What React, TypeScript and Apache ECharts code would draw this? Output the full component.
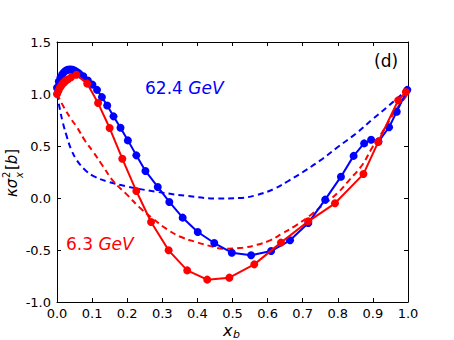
import React, { useEffect, useRef } from "react";
import * as echarts from "echarts";

// 62.4 GeV model (solid, markers)
const blueX = [0, 0.005, 0.01, 0.015, 0.02, 0.025, 0.03, 0.035, 0.04, 0.045, 0.05, 0.055, 0.06, 0.065, 0.075, 0.088, 0.101, 0.114, 0.128, 0.143, 0.161, 0.181, 0.202, 0.226, 0.252, 0.287, 0.32, 0.358, 0.401, 0.448, 0.498, 0.553, 0.61, 0.664, 0.716, 0.764, 0.809, 0.845, 0.875, 0.895, 0.916, 0.946, 0.968, 0.998];
const blueY = [1.06, 1.12, 1.16, 1.19, 1.21, 1.225, 1.232, 1.235, 1.235, 1.232, 1.225, 1.215, 1.205, 1.19, 1.17, 1.13, 1.09, 1.04, 0.97, 0.89, 0.785, 0.676, 0.554, 0.41, 0.26, 0.106, -0.038, -0.189, -0.327, -0.433, -0.526, -0.551, -0.51, -0.407, -0.24, -0.016, 0.205, 0.405, 0.525, 0.56, 0.542, 0.68, 0.83, 1.04];

// 6.3 GeV model (solid, markers)
const redX = [0, 0.004, 0.008, 0.012, 0.016, 0.02, 0.025, 0.03, 0.04, 0.055, 0.086, 0.117, 0.15, 0.186, 0.226, 0.268, 0.318, 0.371, 0.428, 0.491, 0.562, 0.638, 0.716, 0.792, 0.873, 0.915, 0.972, 0.994];
const redY = [1.0, 1.03, 1.06, 1.08, 1.1, 1.11, 1.13, 1.14, 1.16, 1.185, 1.1, 0.913, 0.673, 0.378, 0.067, -0.231, -0.503, -0.696, -0.785, -0.766, -0.638, -0.429, -0.224, -0.051, 0.23, 0.538, 0.939, 1.019];

// 62.4 GeV reference curve (dashed)
const blueDashX = [0, 0.009, 0.017, 0.028, 0.04, 0.057, 0.08, 0.104, 0.142, 0.2, 0.283, 0.37, 0.453, 0.52, 0.567, 0.62, 0.662, 0.71, 0.757, 0.8, 0.851, 0.9, 0.946, 1.0];
const blueDashY = [1.0, 0.84, 0.72, 0.59, 0.47, 0.36, 0.27, 0.21, 0.16, 0.11, 0.06, 0.02, -0.005, 0.0, 0.026, 0.09, 0.17, 0.27, 0.378, 0.49, 0.618, 0.76, 0.89, 1.05];

// 6.3 GeV reference curve (dashed)
const redDashX = [0, 0.02, 0.04, 0.057, 0.08, 0.104, 0.13, 0.161, 0.2, 0.235, 0.27, 0.311, 0.35, 0.396, 0.44, 0.472, 0.529, 0.57, 0.605, 0.64, 0.681, 0.72, 0.757, 0.8, 0.832, 0.87, 0.899, 0.93, 0.965, 1.0];
const redDashY = [1.0, 0.87, 0.76, 0.68, 0.55, 0.44, 0.31, 0.16, 0.03, -0.09, -0.19, -0.295, -0.37, -0.423, -0.465, -0.487, -0.478, -0.45, -0.41, -0.345, -0.263, -0.17, -0.07, 0.05, 0.17, 0.32, 0.49, 0.65, 0.843, 1.0];

const labelBlue = "62.4";
const labelRed = "6.3";
const panelTag = "(d)";

const FONT = "DejaVu Sans";
const BLUE = "#0000ff";
const RED = "#ff0000";

const zip = (xs: number[], ys: number[]) => xs.map((x, i) => [x, ys[i]]);

export default function App() {
  const ref = useRef<HTMLDivElement>(null);
  useEffect(() => {
    if (!ref.current) return;
    const chart = echarts.init(ref.current, null, { renderer: "svg" });
    const axisBase = {
      axisLine: { show: true, onZero: false, lineStyle: { color: "#000", width: 1 } },
      axisTick: { show: true, inside: true, length: 4, lineStyle: { color: "#000" } },
      splitLine: { show: false },
    };
    const grid = { left: 57, right: 46, top: 42, bottom: 38, outerBoundsMode: "none" } as any;
    chart.setOption({
      animation: false,
      grid,
      xAxis: [
        {
          type: "value", min: 0, max: 1, interval: 0.1, position: "bottom",
          ...axisBase,
          axisLabel: { color: "#000", fontSize: 13, fontFamily: FONT, margin: 5, lineHeight: 13, formatter: (v: number) => v.toFixed(1) },
        },
        {
          type: "value", min: 0, max: 1, interval: 0.1, position: "top",
          ...axisBase,
          axisLabel: { show: false },
        },
      ],
      yAxis: [
        {
          type: "value", min: -1, max: 1.5, interval: 0.5, position: "left",
          ...axisBase,
          axisLabel: { color: "#000", fontSize: 13, fontFamily: FONT, margin: 6, formatter: (v: number) => v.toFixed(1) },
        },
        {
          type: "value", min: -1, max: 1.5, interval: 0.5, position: "right",
          ...axisBase,
          axisLabel: { show: false },
        },
      ],
      series: [
        {
          type: "line", data: zip(blueDashX, blueDashY), smooth: 0.4, showSymbol: false, symbol: "none",
          lineStyle: { color: BLUE, width: 2, type: [6, 4] }, z: 2,
        },
        {
          type: "line", data: zip(redDashX, redDashY), smooth: 0.4, showSymbol: false, symbol: "none",
          lineStyle: { color: RED, width: 2, type: [6, 4] }, z: 2,
        },
        {
          type: "line", data: zip(blueX, blueY), symbol: "circle", symbolSize: 8, showAllSymbol: true,
          lineStyle: { color: BLUE, width: 2 }, itemStyle: { color: BLUE }, z: 3,
        },
        {
          type: "line", data: zip(redX, redY), symbol: "circle", symbolSize: 8, showAllSymbol: true,
          lineStyle: { color: RED, width: 2 }, itemStyle: { color: RED }, z: 4,
        },
      ],
      graphic: [
        {
          type: "text", left: 145, top: 79, z: 10,
          style: {
            text: `{n|${labelBlue} }{i|GeV}`,
            rich: {
              n: { fontFamily: FONT, fontSize: 17, fill: BLUE },
              i: { fontFamily: FONT, fontSize: 17, fontStyle: "italic", fill: BLUE },
            },
          },
        },
        {
          type: "text", left: 66, top: 235, z: 10,
          style: {
            text: `{n|${labelRed} }{i|GeV}`,
            rich: {
              n: { fontFamily: FONT, fontSize: 17, fill: RED },
              i: { fontFamily: FONT, fontSize: 17, fontStyle: "italic", fill: RED },
            },
          },
        },
        {
          type: "text", left: 374, top: 52, z: 10,
          style: { text: panelTag, fontFamily: FONT, fontSize: 17, fill: "#000" },
        },
        // x axis name: x_b
        {
          type: "group", x: 223, y: 336, z: 10,
          children: [
            { type: "text", x: 0, y: -6, style: { text: "x", fontFamily: FONT, fontSize: 16, lineHeight: 12, fontStyle: "italic", fill: "#000", verticalAlign: "middle" } },
            { type: "text", x: 10, y: -2, style: { text: "b", fontFamily: FONT, fontSize: 11, lineHeight: 9, fontStyle: "italic", fill: "#000", verticalAlign: "middle" } },
          ],
        },
        // y axis name: κσ_x^2[b]
        {
          type: "group", x: 17, y: 197, rotation: Math.PI / 2, z: 10,
          children: [
            { type: "text", x: 0, y: -5, style: { text: "κσ", fontFamily: FONT, fontSize: 15, fontStyle: "italic", fill: "#000", verticalAlign: "middle" } },
            { type: "text", x: 19, y: -11, style: { text: "2", fontFamily: FONT, fontSize: 10, fill: "#000", verticalAlign: "middle" } },
            { type: "text", x: 19, y: 2, style: { text: "x", fontFamily: FONT, fontSize: 10, fontStyle: "italic", fill: "#000", verticalAlign: "middle" } },
            {
              type: "text", x: 27, y: -5,
              style: {
                text: "[{i|b}]", fontFamily: FONT, fontSize: 15, fill: "#000", verticalAlign: "middle",
                rich: { i: { fontFamily: FONT, fontSize: 15, fontStyle: "italic", fill: "#000" } },
              },
            },
          ],
        },
      ],
    });
    return () => chart.dispose();
  }, []);
  return <div ref={ref} style={{ position: "absolute", left: 0, top: 0, width: 454, height: 340 }} />;
}
